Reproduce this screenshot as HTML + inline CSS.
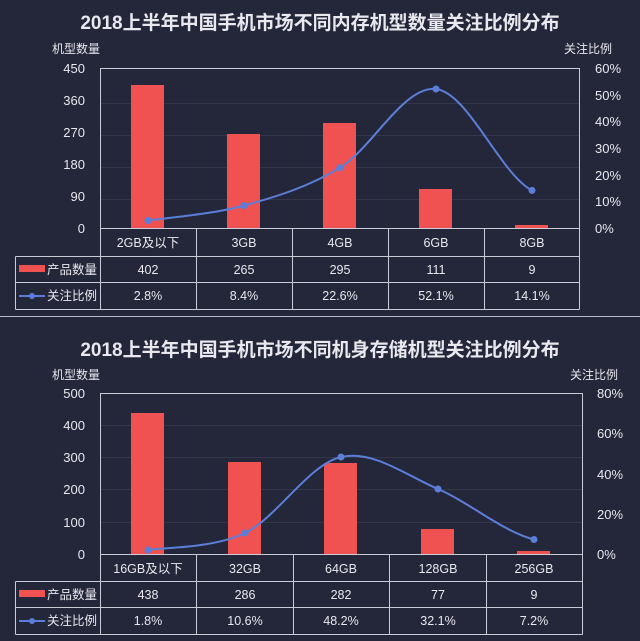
<!DOCTYPE html>
<html><head><meta charset="utf-8"><style>
html,body{margin:0;padding:0;background:#24263a;}
svg{display:block}
text{font-family:"Liberation Sans","Noto Sans CJK SC",sans-serif;fill:#e8e8ee}
</style></head><body>
<svg width="640" height="641" viewBox="0 0 640 641" xmlns="http://www.w3.org/2000/svg">
<rect width="640" height="641" fill="#24263a"/>
<!-- Chart 1 -->
<text x="320" y="29" text-anchor="middle" font-size="19" font-weight="bold" fill="#fff">2018上半年中国手机市场不同内存机型数量关注比例分布</text>
<text x="52" y="53" font-size="12">机型数量</text>
<text x="564" y="53" font-size="12">关注比例</text>
<g stroke="#34374c" stroke-width="1">
<line x1="100" y1="103.5" x2="580" y2="103.5"/><line x1="100" y1="135.5" x2="580" y2="135.5"/><line x1="100" y1="167.5" x2="580" y2="167.5"/><line x1="100" y1="199.5" x2="580" y2="199.5"/>
</g>
<g font-size="13" text-anchor="end">
<text x="85" y="73">450</text><text x="85" y="105">360</text><text x="85" y="137">270</text><text x="85" y="169">180</text><text x="85" y="201">90</text><text x="85" y="233">0</text>
</g>
<g font-size="13">
<text x="595" y="73">60%</text><text x="595" y="100">50%</text><text x="595" y="126">40%</text><text x="595" y="153">30%</text><text x="595" y="180">20%</text><text x="595" y="206">10%</text><text x="595" y="233">0%</text>
</g>
<g fill="#f05252">
<rect x="131" y="85" width="33" height="143"/>
<rect x="227" y="134" width="33" height="94"/>
<rect x="323" y="123" width="33" height="105"/>
<rect x="419" y="189" width="33" height="39"/>
<rect x="515" y="225" width="33" height="3"/>
</g>
<path d="M148,220.5 C164,218 212,214.4 244,205.6 C276,196.8 308,187.1 340,167.7 C372,148.3 404,85.2 436,89 C468,92.8 500,173.5 532,190.4" fill="none" stroke="#5b7fd8" stroke-width="2"/>
<g fill="#5b7fd8"><circle cx="148" cy="220.5" r="3.5"/><circle cx="244" cy="205.6" r="3.5"/><circle cx="340" cy="167.7" r="3.5"/><circle cx="436" cy="89" r="3.5"/><circle cx="532" cy="190.4" r="3.5"/></g>
<g fill="none" stroke="#c9cbd6" stroke-width="1">
<rect x="100.5" y="68.5" width="479" height="160"/>
<line x1="100.5" y1="228.5" x2="100.5" y2="309.5"/>
<line x1="196.5" y1="228.5" x2="196.5" y2="309.5"/><line x1="292.5" y1="228.5" x2="292.5" y2="309.5"/><line x1="388.5" y1="228.5" x2="388.5" y2="309.5"/><line x1="484.5" y1="228.5" x2="484.5" y2="309.5"/><line x1="579.5" y1="228.5" x2="579.5" y2="309.5"/>
<line x1="15.5" y1="256.5" x2="579.5" y2="256.5"/><line x1="15.5" y1="282.5" x2="579.5" y2="282.5"/><line x1="15.5" y1="309.5" x2="579.5" y2="309.5"/>
<line x1="15.5" y1="256.5" x2="15.5" y2="309.5"/>
</g>
<g font-size="12.5" text-anchor="middle">
<text x="148" y="247">2GB及以下</text><text x="244" y="247">3GB</text><text x="340" y="247">4GB</text><text x="436" y="247">6GB</text><text x="532" y="247">8GB</text>
<text x="148" y="274">402</text><text x="244" y="274">265</text><text x="340" y="274">295</text><text x="436" y="274">111</text><text x="532" y="274">9</text>
<text x="148" y="300">2.8%</text><text x="244" y="300">8.4%</text><text x="340" y="300">22.6%</text><text x="436" y="300">52.1%</text><text x="532" y="300">14.1%</text>
</g>
<rect x="19" y="265" width="26" height="7" fill="#f05252"/>
<text x="47" y="274" font-size="12.5">产品数量</text>
<line x1="19" y1="296" x2="45" y2="296" stroke="#5b7fd8" stroke-width="2"/><circle cx="32" cy="296" r="3" fill="#5b7fd8"/>
<text x="47" y="300" font-size="12.5">关注比例</text>
<line x1="0" y1="316.5" x2="640" y2="316.5" stroke="#b8bac6" stroke-width="1"/>
<!-- Chart 2 -->
<text x="320" y="356" text-anchor="middle" font-size="19" font-weight="bold" fill="#fff">2018上半年中国手机市场不同机身存储机型关注比例分布</text>
<text x="52" y="379" font-size="12">机型数量</text>
<text x="570" y="379" font-size="12">关注比例</text>
<g stroke="#34374c" stroke-width="1">
<line x1="100" y1="425.5" x2="583" y2="425.5"/><line x1="100" y1="457.5" x2="583" y2="457.5"/><line x1="100" y1="489.5" x2="583" y2="489.5"/><line x1="100" y1="522.5" x2="583" y2="522.5"/>
</g>
<g font-size="13" text-anchor="end">
<text x="85" y="398">500</text><text x="85" y="430">400</text><text x="85" y="462">300</text><text x="85" y="494">200</text><text x="85" y="527">100</text><text x="85" y="559">0</text>
</g>
<g font-size="13">
<text x="597" y="398">80%</text><text x="597" y="438">60%</text><text x="597" y="479">40%</text><text x="597" y="519">20%</text><text x="597" y="559">0%</text>
</g>
<g fill="#f05252">
<rect x="131" y="413" width="33" height="141"/>
<rect x="228" y="462" width="33" height="92"/>
<rect x="324" y="463" width="33" height="91"/>
<rect x="421" y="529" width="33" height="25"/>
<rect x="517" y="551" width="33" height="3"/>
</g>
<path d="M148,550 C164,547.2 213,548.5 245,533 C277,517.5 309,464.3 341,457 C373,449.7 406,475.3 438,489 C470,502.8 502,531.1 534,539.5" fill="none" stroke="#5b7fd8" stroke-width="2"/>
<g fill="#5b7fd8"><circle cx="148" cy="550" r="3.5"/><circle cx="245" cy="533" r="3.5"/><circle cx="341" cy="457" r="3.5"/><circle cx="438" cy="489" r="3.5"/><circle cx="534" cy="539.5" r="3.5"/></g>
<g fill="none" stroke="#c9cbd6" stroke-width="1">
<rect x="100.5" y="393.5" width="482" height="161"/>
<line x1="100.5" y1="554.5" x2="100.5" y2="634.5"/>
<line x1="196.5" y1="554.5" x2="196.5" y2="634.5"/><line x1="293.5" y1="554.5" x2="293.5" y2="634.5"/><line x1="389.5" y1="554.5" x2="389.5" y2="634.5"/><line x1="486.5" y1="554.5" x2="486.5" y2="634.5"/><line x1="582.5" y1="554.5" x2="582.5" y2="634.5"/>
<line x1="15.5" y1="581.5" x2="582.5" y2="581.5"/><line x1="15.5" y1="607.5" x2="582.5" y2="607.5"/><line x1="15.5" y1="634.5" x2="582.5" y2="634.5"/>
<line x1="15.5" y1="581.5" x2="15.5" y2="634.5"/>
</g>
<g font-size="12.5" text-anchor="middle">
<text x="148" y="573">16GB及以下</text><text x="245" y="573">32GB</text><text x="341" y="573">64GB</text><text x="438" y="573">128GB</text><text x="534" y="573">256GB</text>
<text x="148" y="599">438</text><text x="245" y="599">286</text><text x="341" y="599">282</text><text x="438" y="599">77</text><text x="534" y="599">9</text>
<text x="148" y="625">1.8%</text><text x="245" y="625">10.6%</text><text x="341" y="625">48.2%</text><text x="438" y="625">32.1%</text><text x="534" y="625">7.2%</text>
</g>
<rect x="19" y="590" width="26" height="7" fill="#f05252"/>
<text x="47" y="599" font-size="12.5">产品数量</text>
<line x1="19" y1="621" x2="45" y2="621" stroke="#5b7fd8" stroke-width="2"/><circle cx="32" cy="621" r="3" fill="#5b7fd8"/>
<text x="47" y="625" font-size="12.5">关注比例</text>
</svg>
</body></html>
